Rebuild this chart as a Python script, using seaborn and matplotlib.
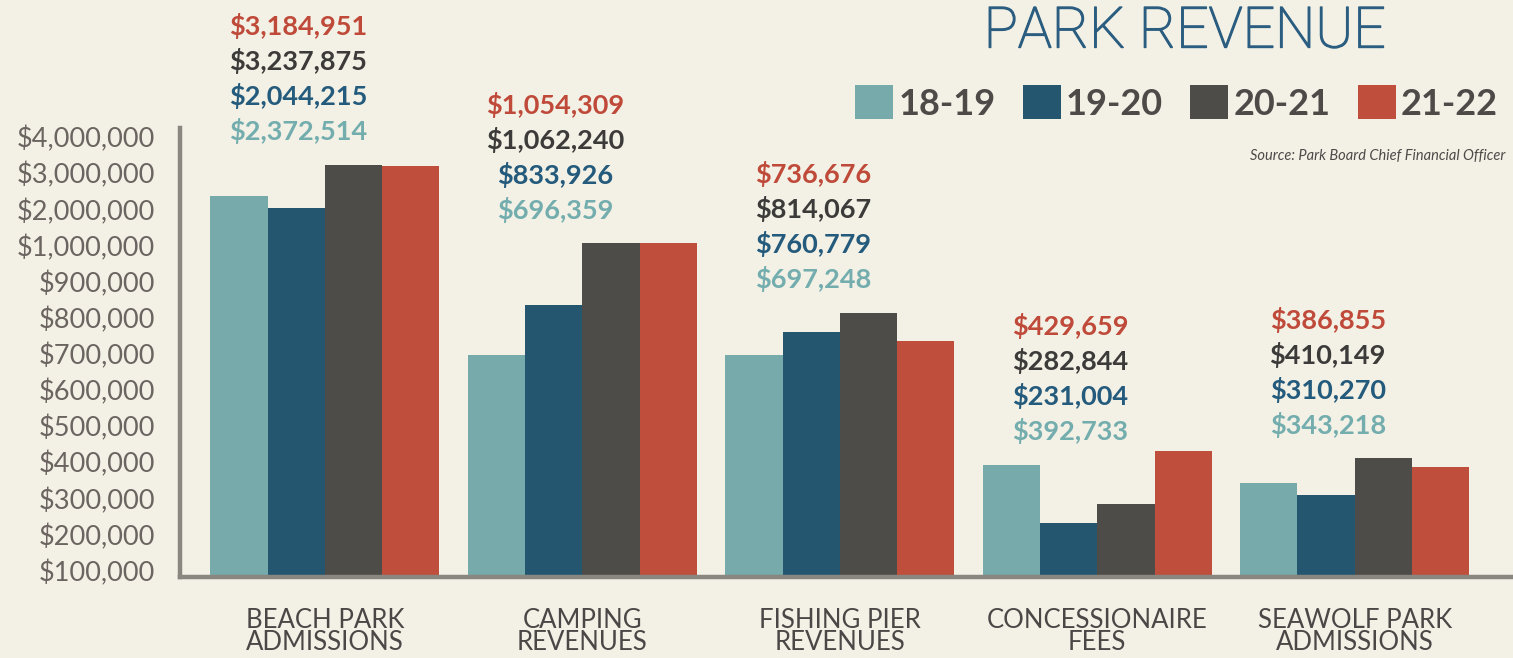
import numpy as np
import pandas as pd
import matplotlib
matplotlib.use("Agg")
import matplotlib.pyplot as plt
import matplotlib.patheffects as pe
import seaborn as sns

# ---------------- data ----------------
categories = ["BEACH PARK\nADMISSIONS", "CAMPING\nREVENUES", "FISHING PIER\nREVENUES",
              "CONCESSIONAIRE\nFEES", "SEAWOLF PARK\nADMISSIONS"]
years = ["18-19", "19-20", "20-21", "21-22"]
rev_18_19 = [2372514, 696359, 697248, 392733, 343218]
rev_19_20 = [2044215, 833926, 760779, 231004, 310270]
rev_20_21 = [3237875, 1062240, 814067, 282844, 410149]
rev_21_22 = [3184951, 1054309, 736676, 429659, 386855]
tick_values = [100000, 200000, 300000, 400000, 500000, 600000, 700000, 800000,
               900000, 1000000, 2000000, 3000000, 4000000]

series = [rev_18_19, rev_19_20, rev_20_21, rev_21_22]
df = pd.DataFrame({
    "category": categories * 4,
    "year": np.repeat(years, len(categories)),
    "revenue": np.concatenate(series),
})

# ---------------- style ----------------
bg = "#f3f1e6"
bar_colors = ["#76aaab", "#245670", "#4e4c48", "#bf4e3d"]
label_colors = ["#74adae", "#245a7c", "#3d3b39", "#bf4a3a"]

sns.set_theme(style="white")
plt.rcParams["font.family"] = ["Lato", "DejaVu Sans"]

fig = plt.figure(figsize=(15.13, 6.58), dpi=100, facecolor=bg)
ax = fig.add_axes([180 / 1513, 1 - 577 / 658, 1 - 180 / 1513, (577 - 128) / 658])
ax.set_facecolor(bg)

sns.barplot(data=df, x="category", y="revenue", hue="year", hue_order=years,
            palette=bar_colors, width=0.89, gap=0, saturation=1, ax=ax,
            errorbar=None, edgecolor="none", linewidth=0)

# piecewise-linear (non-uniform) value scale as in the reference
knots_v = np.array([0] + tick_values + [5000000], dtype=float)
knots_p = np.arange(len(knots_v), dtype=float)


def fwd(v):
    return np.interp(v, knots_v, knots_p)


def inv(p):
    return np.interp(p, knots_p, knots_v)


ax.set_yscale("function", functions=(fwd, inv))
ax.set_ylim(inv(0.82), inv(13.25))
ax.set_xlim(-0.563, 4.615)
ax.set_yticks(tick_values)
ax.set_yticklabels([f"${v:,.0f}" for v in tick_values])
ax.yaxis.set_minor_locator(matplotlib.ticker.NullLocator())
ax.tick_params(axis="y", length=0, pad=18, labelsize=19.5, labelcolor="#6b6460")
ax.tick_params(axis="x", length=0, pad=22, labelsize=18.5, labelcolor="#4a4746")
for t in ax.get_xticklabels():
    t.set_linespacing(0.85)
ax.set_xlabel("")
ax.set_ylabel("")

for side in ["top", "right"]:
    ax.spines[side].set_visible(False)
for side in ["left", "bottom"]:
    ax.spines[side].set_color("#8a8680")
    ax.spines[side].set_linewidth(3.2)
    ax.spines[side].set_visible(True)

# value label stacks above each group
for i in range(len(categories)):
    anchor = max(rev_18_19[i], rev_19_20[i], rev_20_21[i])
    stack = [(rev_18_19[i], label_colors[0]),
             (rev_19_20[i], label_colors[1]),
             (rev_20_21[i], label_colors[2]),
             (rev_21_22[i], label_colors[3])]
    for k, (val, col) in enumerate(stack):
        ax.annotate(f"${val:,.0f}", xy=(i - 0.105, anchor),
                    xytext=(0, 24 + k * 25.2), textcoords="offset points",
                    ha="center", va="center", fontsize=19.5, color=col,
                    fontweight="bold", annotation_clip=False)

# legend
handles, labels = ax.get_legend_handles_labels()
ax.get_legend().remove()
leg = fig.legend(handles, labels, loc="center left",
                 bbox_to_anchor=(855 / 1513, 1 - 103 / 658), ncol=4,
                 frameon=False, fontsize=26, handlelength=1.05, handleheight=1.05,
                 handletextpad=0.15, columnspacing=0.75, borderpad=0,
                 borderaxespad=0)
for t in leg.get_texts():
    t.set_color("#4d4a48")
    t.set_fontweight("bold")

# title and source
title_color = "#2b5d80"
fig.text(1185 / 1513, 1 - 32 / 658, "PARK REVENUE", ha="center", va="center",
         fontsize=41, color=title_color, fontweight="light",
         family=["Roboto", "Lato", "DejaVu Sans"],
         path_effects=[pe.withStroke(linewidth=1.0, foreground=title_color)])
fig.text(1505 / 1513, 1 - 156 / 658, "Source: Park Board Chief Financial Officer",
         ha="right", va="center", fontsize=10.5, color="#4d4a48", style="italic")

fig.savefig("out.png", dpi=100, facecolor=bg)
